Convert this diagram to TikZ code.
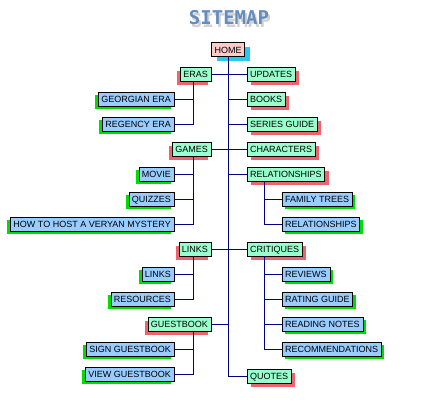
\documentclass[tikz,border=0pt]{standalone}
\usepackage{fontspec}
\setmainfont{Liberation Sans}
\newfontfamily\titlefont{DejaVu Sans Mono}
\usetikzlibrary{shadows}
\definecolor{mainBoxColor}{RGB}{153,255,204}
\definecolor{subBoxColor}{RGB}{153,204,255}
\definecolor{homeBoxColor}{RGB}{255,204,204}
\definecolor{redShadowColor}{RGB}{238,100,110}
\definecolor{greenShadowColor}{RGB}{0,220,0}
\definecolor{cyanShadowColor}{RGB}{40,200,240}
\definecolor{linkColor}{RGB}{0,0,128}
\definecolor{titleColor}{RGB}{100,140,190}

\begin{document}
\begin{tikzpicture}[
        x=1pt, y=-1pt,
        box/.style={
                draw,
                font=\fontsize{9}{9}\selectfont,
                inner xsep=3pt,
                inner ysep=0pt,
                minimum height=14pt,
                text height=7pt,
                text depth=0pt
            },
        homebox/.style={box, fill=homeBoxColor,
                general shadow={fill=cyanShadowColor, shadow xshift=5pt, shadow yshift=-4pt}},
        mainR/.style={box, fill=mainBoxColor, anchor=west,
                general shadow={fill=redShadowColor, shadow xshift=4pt, shadow yshift=-4pt}},
        mainL/.style={box, fill=mainBoxColor, anchor=east,
                general shadow={fill=redShadowColor, shadow xshift=-3pt, shadow yshift=-4pt}},
        subR/.style={box, fill=subBoxColor, anchor=west,
                general shadow={fill=greenShadowColor, shadow xshift=3pt, shadow yshift=-3pt}},
        subL/.style={box, fill=subBoxColor, anchor=east,
                general shadow={fill=greenShadowColor, shadow xshift=-3pt, shadow yshift=-3pt}},
        link/.style={linkColor, line width=0.8pt}
    ]
    \useasboundingbox (0,0) rectangle (446,418);

    % ---- Columns ----
    \def\xMainL{211}  \def\xSubL{174}   % left side, right edges
    \def\xMainR{247}  \def\xSubR{282}   % right side, left edges
    \coordinate (ltrunk) at (193,0);
    \coordinate (rtrunk) at (264,0);

    % ---- Title ----
    \node[font=\titlefont\bfseries\fontsize{19}{19}\selectfont, text=black!30, opacity=0.6] (titleshadow) at (231,21) {SITEMAP};
    \node[font=\titlefont\bfseries\fontsize{19}{19}\selectfont, text=titleColor] (title) at (229,18) {SITEMAP};

    % ---- Home ----
    \node[homebox] (home) at (228,49.5) {HOME};

    % ---- Right side ----
    \node[mainR] (updates)    at (\xMainR,74)  {UPDATES};
    \node[mainR] (books)      at (\xMainR,99)  {BOOKS};
    \node[mainR] (series)     at (\xMainR,124) {SERIES GUIDE};
    \node[mainR] (characters) at (\xMainR,149) {CHARACTERS};
    \node[mainR] (relations)  at (\xMainR,174) {RELATIONSHIPS};
    \node[subR]  (familytrees) at (\xSubR,199) {FAMILY TREES};
    \node[subR]  (relationsub) at (\xSubR,224) {RELATIONSHIPS};
    \node[mainR] (critiques)  at (\xMainR,249) {CRITIQUES};
    \node[subR]  (reviews)    at (\xSubR,274)  {REVIEWS};
    \node[subR]  (rating)     at (\xSubR,299)  {RATING GUIDE};
    \node[subR]  (reading)    at (\xSubR,324)  {READING NOTES};
    \node[subR]  (recommend)  at (\xSubR,349)  {RECOMMENDATIONS};
    \node[mainR] (quotes)     at (\xMainR,376) {QUOTES};

    % ---- Left side ----
    \node[mainL] (eras)      at (\xMainL,74)  {ERAS};
    \node[subL]  (georgian)  at (\xSubL,99)   {GEORGIAN ERA};
    \node[subL]  (regency)   at (\xSubL,124)  {REGENCY ERA};
    \node[mainL] (games)     at (\xMainL,149) {GAMES};
    \node[subL]  (movie)     at (\xSubL,174)  {MOVIE};
    \node[subL]  (quizzes)   at (\xSubL,199)  {QUIZZES};
    \node[subL]  (hosting)   at (\xSubL,224)  {HOW TO HOST A VERYAN MYSTERY};
    \node[mainL] (links)     at (\xMainL,249) {LINKS};
    \node[subL]  (linksub)   at (\xSubL,274)  {LINKS};
    \node[subL]  (resources) at (\xSubL,299)  {RESOURCES};
    \node[mainL] (guestbook) at (\xMainL,324) {GUESTBOOK};
    \node[subL]  (signbook)  at (\xSubL,349)  {SIGN GUESTBOOK};
    \node[subL]  (viewbook)  at (\xSubL,374)  {VIEW GUESTBOOK};

    % ---- Trunk ----
    \draw[link] (home.south) -- (home.south |- quotes.west) -- (quotes.west);
    \foreach \n in {updates,books,series,characters,relations,critiques}
        \draw[link] (\n.west) -- (\n.west -| home.south);
    \foreach \n in {eras,games,links,guestbook}
        \draw[link] (\n.east) -- (\n.east -| home.south);

    % ---- Branches ----
    \draw[link] (eras.south -| ltrunk) |- (regency.east);
    \draw[link] (eras.south -| ltrunk) |- (georgian.east);
    \draw[link] (games.south -| ltrunk) |- (hosting.east);
    \foreach \n in {movie,quizzes}
        \draw[link] (\n.east) -- (\n.east -| ltrunk);
    \draw[link] (links.south -| ltrunk) |- (resources.east);
    \draw[link] (links.south -| ltrunk) |- (linksub.east);
    \draw[link] (guestbook.south -| ltrunk) |- (viewbook.east);
    \draw[link] (guestbook.south -| ltrunk) |- (signbook.east);

    \draw[link] (relations.south -| rtrunk) |- (relationsub.west);
    \draw[link] (relations.south -| rtrunk) |- (familytrees.west);
    \draw[link] (critiques.south -| rtrunk) |- (recommend.west);
    \foreach \n in {reviews,rating,reading}
        \draw[link] (\n.west) -- (\n.west -| rtrunk);
\end{tikzpicture}
\end{document}
